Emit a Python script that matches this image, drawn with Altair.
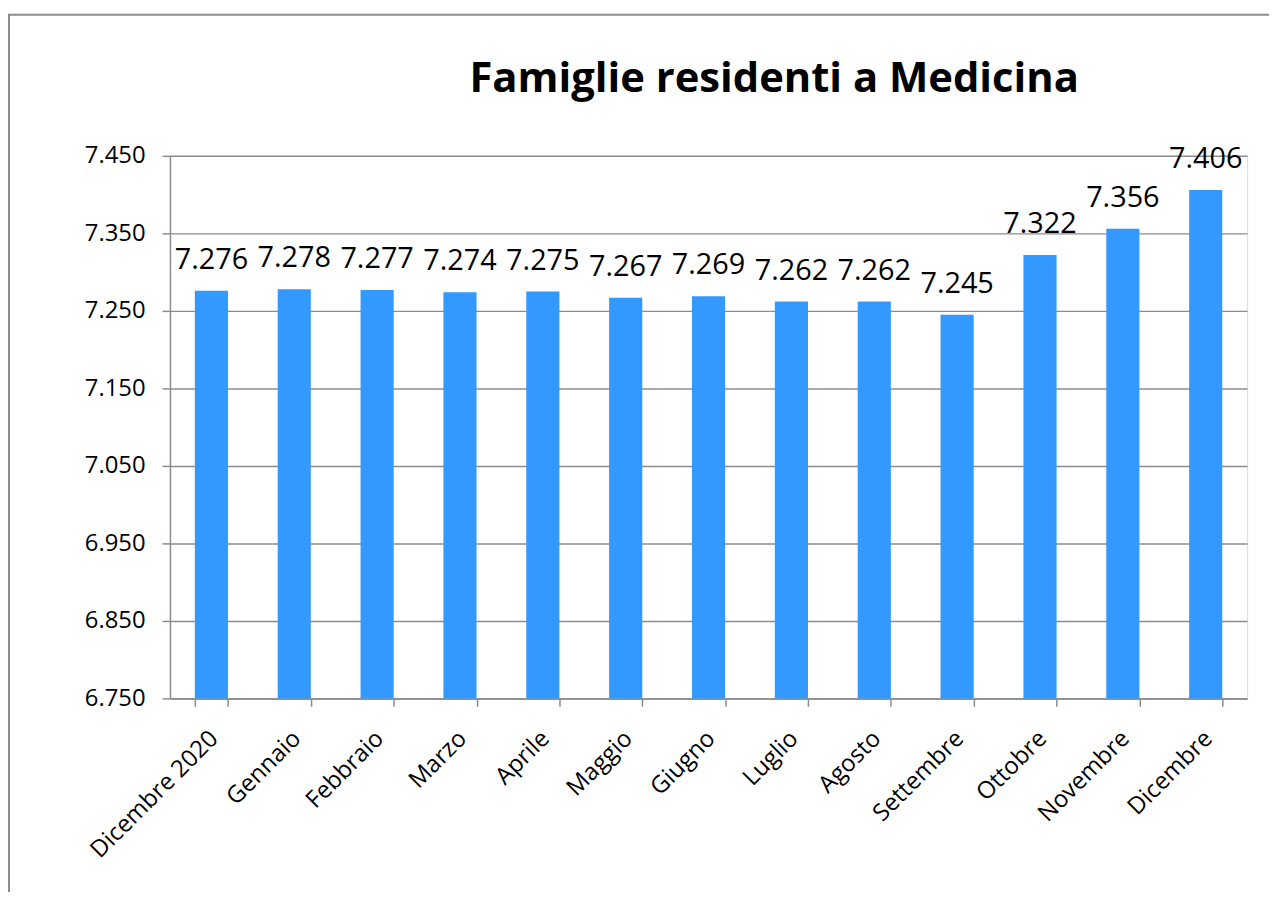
import altair as alt
import pandas as pd

months = ["Dicembre 2020", "Gennaio", "Febbraio", "Marzo", "Aprile", "Maggio",
          "Giugno", "Luglio", "Agosto", "Settembre", "Ottobre", "Novembre", "Dicembre"]
families = [7276, 7278, 7277, 7274, 7275, 7267, 7269, 7262, 7262, 7245, 7322, 7356, 7406]
y_ticks = [6750, 6850, 6950, 7050, 7150, 7250, 7350, 7450]

df = pd.DataFrame({"mese": months, "famiglie": families})

W, H = 1084, 546
FONT = "Open Sans"

x_enc = alt.X("mese:N", sort=months, title=None,
              scale=alt.Scale(paddingInner=0.6, paddingOuter=0.3),
              axis=alt.Axis(labelAngle=-45, labelFont=FONT, labelFontSize=24,
                            labelColor="black", tickBand="extent", tickSize=8,
                            tickColor="#8c8c8c", tickWidth=1.5,
                            domainColor="#8c8c8c", domainWidth=1.5,
                            labelPadding=20, labelOffset=-6, grid=False))
y_enc = alt.Y("famiglie:Q", title=None,
              scale=alt.Scale(domain=[6750, 7450], zero=False, nice=False),
              axis=alt.Axis(values=y_ticks,
                            labelExpr="replace(format(datum.value, ','), ',', '.')",
                            labelFont=FONT, labelFontSize=24, labelColor="black",
                            labelPadding=17, tickSize=8, tickColor="#8c8c8c",
                            tickWidth=1.5, domainColor="#8c8c8c", domainWidth=1.5,
                            grid=True, gridColor="#8c8c8c", gridWidth=1.5))

base = alt.Chart(df).transform_calculate(
    etichetta="replace(format(datum.famiglie, ','), ',', '.')"
)

bars = base.mark_bar(color="#3399ff", clip=True).encode(x=x_enc, y=y_enc)

labels = base.mark_text(font=FONT, fontSize=29, color="black",
                        baseline="alphabetic", dy=-22).encode(
    x=alt.X("mese:N", sort=months), y=alt.Y("famiglie:Q"), text="etichetta:N")

frame = alt.Chart(pd.DataFrame({"k": [0]})).mark_rect(
    filled=False, stroke="#8c8c8c", strokeWidth=2).encode(
    x=alt.value(-162), x2=alt.value(W + 60), y=alt.value(-142), y2=alt.value(H + 300))

chart = alt.layer(frame, bars, labels).properties(
    width=W, height=H,
    autosize=alt.AutoSizeParams(type="none"),
    padding={"left": 163, "top": 146, "right": 22, "bottom": 192},
    title=alt.TitleParams("Famiglie residenti a Medicina", font=FONT, fontSize=42,
                          fontWeight="bold", color="black", anchor="middle",
                          baseline="alphabetic", offset=0, dx=66, dy=121,
                          frame="group"),
).configure_view(stroke=None).configure(background="white")

chart.save("out.html", embed_options={"renderer": "svg", "actions": False})
